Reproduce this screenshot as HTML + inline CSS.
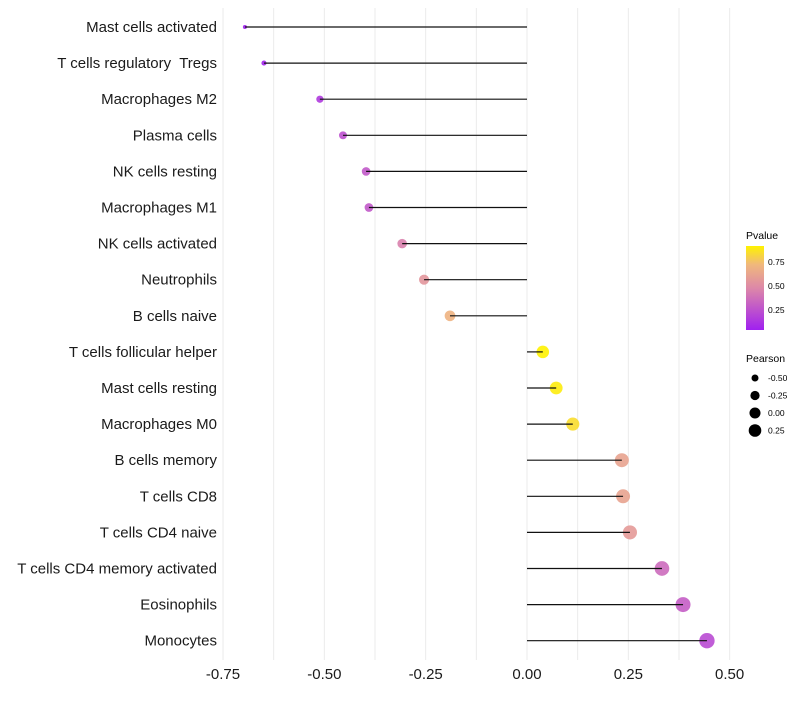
<!DOCTYPE html>
<html><head><meta charset="utf-8"><style>
body{margin:0;background:#fff;font-family:"Liberation Sans",Arial,sans-serif}
svg text{font-family:"Liberation Sans",Arial,sans-serif;white-space:pre}
</style></head><body>
<svg id="chart" width="800" height="700" xmlns="http://www.w3.org/2000/svg">
<defs><linearGradient id="pg" x1="0" y1="1" x2="0" y2="0">
<stop offset="0" stop-color="#a020f0"/><stop offset="0.5" stop-color="#dd88a8"/><stop offset="0.78" stop-color="#f0b87c"/><stop offset="1" stop-color="#fff200"/></linearGradient></defs>
<g id="grid"></g>
<g id="marks"></g>
<g id="ylabels"></g>
<g id="xlabels"></g>
<g>
<text x="746" y="239" font-size="10.5">Pvalue</text>
<rect x="746" y="246" width="18" height="84" fill="url(#pg)"/>
<text x="768" y="265" font-size="8.5">0.75</text>
<text x="768" y="289" font-size="8.5">0.50</text>
<text x="768" y="313" font-size="8.5">0.25</text>
</g>
<g id="sizeleg">
<text x="746" y="362" font-size="10.5">Pearson</text>
</g>
</svg>
<script>
const categories=["Mast cells activated","T cells regulatory  Tregs","Macrophages M2","Plasma cells","NK cells resting","Macrophages M1","NK cells activated","Neutrophils","B cells naive","T cells follicular helper","Mast cells resting","Macrophages M0","B cells memory","T cells CD8","T cells CD4 naive","T cells CD4 memory activated","Eosinophils","Monocytes"];
const pearson=[-0.696,-0.649,-0.511,-0.454,-0.397,-0.39,-0.308,-0.254,-0.19,0.039,0.072,0.113,0.234,0.237,0.254,0.333,0.385,0.444];
const pvalue=[0.03,0.06,0.15,0.24,0.28,0.28,0.45,0.55,0.7,0.95,0.9,0.85,0.62,0.62,0.57,0.36,0.3,0.22];
const xTicks=[-0.75,-0.5,-0.25,0,0.25,0.5];
const xTickLabels=["-0.75","-0.50","-0.25","0.00","0.25","0.50"];
const sizeLegend=[-0.5,-0.25,0,0.25];
const sizeLegendLabels=["-0.50","-0.25","0.00","0.25"];
const NS="http://www.w3.org/2000/svg";
const x=v=>527+v*405.3;
const y=i=>27+i*36.1;
const r=v=>Math.sqrt(Math.max(3,37.6+48*v));
const rl=v=>Math.sqrt(Math.max(3,30.5+36.6*v));
function col(p){const t=Math.max(0,Math.min(1,(p-0.04)/0.88));
const st=[[0,[160,32,240]],[0.5,[221,136,168]],[0.78,[240,184,124]],[1,[255,242,0]]];
for(let k=0;k<st.length-1;k++){if(t<=st[k+1][0]){const f=(t-st[k][0])/(st[k+1][0]-st[k][0]);const a=st[k][1],b=st[k+1][1];return `rgb(${a.map((c,j)=>Math.round(c+(b[j]-c)*f)).join(',')})`;}}return 'rgb(255,242,0)';}
function mk(tag,at,parent){const e=document.createElementNS(NS,tag);for(const k in at)e.setAttribute(k,at[k]);parent.appendChild(e);return e;}
const grid=document.getElementById('grid');
for(let v=-0.75;v<=0.501;v+=0.125){const g=mk('line',{x1:x(v),x2:x(v),y1:8,y2:660,stroke:'#ebebeb','stroke-width':1},grid);

}
const marks=document.getElementById('marks');
categories.forEach((c,i)=>{
const pt=mk('circle',{cx:x(pearson[i]),cy:y(i),r:r(pearson[i]),fill:col(pvalue[i]),'fill-opacity':0.9},marks);


const ln=mk('line',{x1:x(0),x2:x(pearson[i]),y1:y(i),y2:y(i),stroke:'#111','stroke-width':1.2},marks);


const t=mk('text',{x:217,y:y(i)+5,'text-anchor':'end','font-size':15,fill:'#1a1a1a'},document.getElementById('ylabels'));
t.textContent=c;


});
xTicks.forEach((v,i)=>{const t=mk('text',{x:x(v),y:679,'text-anchor':'middle','font-size':15,fill:'#1a1a1a'},document.getElementById('xlabels'));
t.textContent=xTickLabels[i];

});
const sl=document.getElementById('sizeleg');
sizeLegend.forEach((v,i)=>{const cy=378+i*17.5;
const c=mk('circle',{cx:755,cy:cy,r:rl(v),fill:'#000'},sl);


const t=mk('text',{x:768,y:cy+3,'font-size':8.5},sl);t.textContent=sizeLegendLabels[i];

});
</script>
</body></html>
